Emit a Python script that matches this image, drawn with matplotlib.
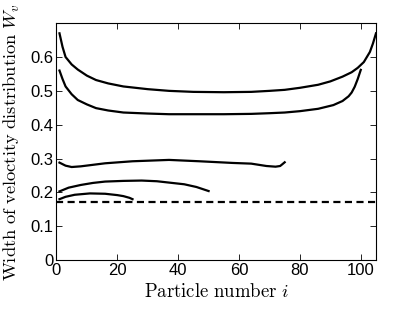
import matplotlib
matplotlib.use("Agg")
import matplotlib.pyplot as plt

plt.rcParams['mathtext.fontset'] = 'cm'
plt.rcParams['font.family'] = ['Liberation Sans', 'DejaVu Sans']

# particle index / width for each chain length
i_105 = [1, 2, 3, 5, 7, 10, 13, 17, 22, 30, 37, 45, 55, 64, 70, 75, 80, 86, 90, 94, 97, 99, 101, 103, 104, 105]
w_105 = [0.67, 0.63, 0.60, 0.578, 0.563, 0.545, 0.532, 0.522, 0.513, 0.505, 0.5, 0.497, 0.496, 0.497, 0.5, 0.503, 0.509, 0.518, 0.528, 0.542, 0.555, 0.568, 0.585, 0.615, 0.64, 0.67]
i_100 = [1, 2, 3, 5, 7, 10, 13, 17, 22, 30, 37, 45, 55, 64, 70, 75, 80, 86, 91, 94, 96, 97, 98, 99, 100]
w_100 = [0.56, 0.535, 0.513, 0.49, 0.473, 0.46, 0.449, 0.442, 0.436, 0.433, 0.431, 0.431, 0.431, 0.432, 0.434, 0.436, 0.44, 0.447, 0.458, 0.47, 0.484, 0.495, 0.512, 0.535, 0.562]
i_75 = [1, 3, 5, 8, 16, 25, 37, 47, 58, 64, 69, 72, 73.5, 74.2, 75]
w_75 = [0.288, 0.279, 0.275, 0.277, 0.286, 0.292, 0.296, 0.292, 0.287, 0.285, 0.278, 0.276, 0.278, 0.283, 0.289]
i_50 = [1, 4, 8, 12, 16, 22, 28, 33, 37, 42, 46, 50]
w_50 = [0.203, 0.214, 0.222, 0.228, 0.232, 0.234, 0.235, 0.233, 0.229, 0.224, 0.216, 0.204]
i_25 = [1, 3, 6, 11, 16, 20, 22, 24, 25]
w_25 = [0.18, 0.187, 0.193, 0.197, 0.196, 0.192, 0.189, 0.184, 0.18]
w_ref = 0.171

fig = plt.figure(figsize=(4.15, 3.13), dpi=100)
ax = fig.add_axes([0.136, 0.169, 0.770, 0.757])

for x, y in [(i_105, w_105), (i_100, w_100), (i_75, w_75), (i_50, w_50), (i_25, w_25)]:
    ax.plot(x, y, color='black', lw=1.6)
ax.axhline(w_ref, color='black', lw=1.6, ls=(0, (3.2, 2.0)))

ax.set_xlim(0, 105)
ax.set_ylim(0, 0.7)
ax.set_xticks([0, 20, 40, 60, 80, 100])
ax.set_yticks([0, 0.1, 0.2, 0.3, 0.4, 0.5, 0.6])
ax.set_yticklabels(['0', '0.1', '0.2', '0.3', '0.4', '0.5', '0.6'])
ax.tick_params(direction='in', top=True, right=True, labelsize=12, length=4, width=0.6, pad=2)
for s in ax.spines.values():
    s.set_linewidth(0.8)

ax.set_xlabel(r'$\mathrm{Particle\ number}\ i$', fontsize=13.5, labelpad=4)
ax.set_ylabel(r'$\mathrm{Width\ of\ veloctity\ distribution}\ W_v$', fontsize=13.3)
ax.yaxis.set_label_coords(-0.107, 0.5)

fig.savefig('out.png', dpi=100)
